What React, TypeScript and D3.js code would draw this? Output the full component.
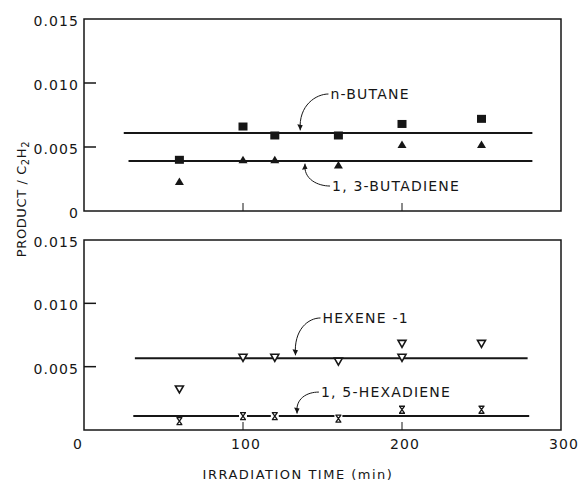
import React from "react";
import * as d3 from "d3";

// Irradiation times (min) and measured product / C2H2 ratios
const times = [60, 100, 120, 160, 200, 250];
const butane = [0.004, 0.0066, 0.0059, 0.0059, 0.0068, 0.0072];
const butadiene = [0.0023, 0.004, 0.004, 0.0036, 0.0052, 0.0052];
const hexeneTimes = [60, 100, 120, 160, 200, 200, 250];
const hexene = [0.0032, 0.0057, 0.0057, 0.0054, 0.0068, 0.0057, 0.0068];
const hexadiene = [0.0007, 0.0011, 0.0011, 0.0009, 0.0016, 0.0016];

// Mean-level lines: [value, start time, end time]
const butaneFit = [0.0061, 25, 282];
const butadieneFit = [0.0039, 28, 282];
const hexeneFit = [0.00567, 32, 279];
const hexadieneFit = [0.0011, 31, 280];

const yTicks = [0, 0.005, 0.01, 0.015];
const yTickLabels = ["0", "0.005", "0.010", "0.015"];
const xTicks = [0, 100, 200, 300];
const xTickLabels = ["0", "100", "200", "300"];

const INK = "#161616";
const FONT = "'DejaVu Sans', 'Liberation Sans', sans-serif";

const x = d3.scaleLinear().domain([0, 300]).range([84, 561]);
const yTop = d3.scaleLinear().domain([0, 0.015]).range([211, 19]);
const yBot = d3.scaleLinear().domain([0, 0.015]).range([430, 240]);

type Scale = d3.ScaleLinear<number, number>;

function Frame({ y, showZero }: { y: Scale; showZero: boolean }) {
  const [y0, y1] = y.range();
  return (
    <g>
      <rect x={x(0)} y={y1} width={x(300) - x(0)} height={y0 - y1} fill="none" stroke={INK} strokeWidth={1.5} />
      {yTicks.slice(1).map((t, i) => (
        <g key={t}>
          {t < 0.015 && <line x1={x(0)} x2={x(0) + 12} y1={y(t)} y2={y(t)} stroke={INK} strokeWidth={1.5} />}
          <text x={x(0) - 5} y={y(t) + 2} textAnchor="end" dominantBaseline="central" fontSize={14} letterSpacing={1.1} fill={INK} fontFamily={FONT}>
            {yTickLabels[i + 1]}
          </text>
        </g>
      ))}
      {showZero && (
        <text x={x(0) - 6} y={y(0) + 2} textAnchor="end" dominantBaseline="central" fontSize={14} fill={INK} fontFamily={FONT}>
          {yTickLabels[0]}
        </text>
      )}
      {[100, 200].map((t) => (
        <line key={t} x1={x(t)} x2={x(t)} y1={y0} y2={y0 - 8} stroke={INK} strokeWidth={1} />
      ))}
    </g>
  );
}

function FitLine({ fit, y }: { fit: number[]; y: Scale }) {
  return <line x1={x(fit[1])} x2={x(fit[2])} y1={y(fit[0])} y2={y(fit[0])} stroke={INK} strokeWidth={2} />;
}

function Leader({ y, tx, ty, ax, ay, label }: { y: Scale; tx: number; ty: number; ax: number; ay: number; label: string }) {
  const sx = x(tx) - 2;
  const sy = y(ty) - 5;
  const ex = x(ax);
  const ey = y(ay);
  const down = ey > sy;
  const path = d3.path();
  path.moveTo(sx, sy);
  path.bezierCurveTo(sx - 12, sy, ex - 2, sy + (ey - sy) * 0.3, ex, ey);
  const dir = down ? 1 : -1;
  const head = `M${ex},${ey} L${ex - 3},${ey - 6 * dir} L${ex + 2.5},${ey - 5 * dir} Z`;
  return (
    <g>
      <path d={path.toString()} fill="none" stroke={INK} strokeWidth={1} />
      <path d={head} fill={INK} />
      <text x={x(tx)} y={y(ty)} fontSize={14} letterSpacing={1.2} fill={INK} fontFamily={FONT}>
        {label}
      </text>
    </g>
  );
}

export default function App() {
  const sq = 9;
  return (
    <div style={{ position: "absolute", left: 0, top: 0 }}>
      <svg width={579} height={482} style={{ display: "block", background: "#fff" }}>
        {/* upper panel: C4 products */}
        <Frame y={yTop} showZero={true} />
        <FitLine fit={butaneFit} y={yTop} />
        <FitLine fit={butadieneFit} y={yTop} />
        {times.map((t, i) => (
          <rect key={"b" + i} x={x(t) - sq / 2} y={yTop(butane[i]) - 4} width={sq} height={8} fill={INK} />
        ))}
        {times.map((t, i) => {
          const cx = x(t);
          const cy = yTop(butadiene[i]);
          return <path key={"d" + i} d={`M${cx - 4.5},${cy + 3.5} L${cx + 4.5},${cy + 3.5} L${cx},${cy - 4} Z`} fill={INK} />;
        })}
        <Leader y={yTop} tx={155} ty={0.00875} ax={136} ay={0.0063} label="n-BUTANE" />
        <Leader y={yTop} tx={156} ty={0.00156} ax={139} ay={0.0037} label="1, 3-BUTADIENE" />

        {/* lower panel: C6 products */}
        <Frame y={yBot} showZero={false} />
        <FitLine fit={hexeneFit} y={yBot} />
        <FitLine fit={hexadieneFit} y={yBot} />
        {hexeneTimes.map((t, i) => {
          const cx = x(t);
          const cy = yBot(hexene[i]);
          return (
            <path key={"h" + i} d={`M${cx - 4},${cy - 3.5} L${cx + 4},${cy - 3.5} L${cx},${cy + 3.5} Z`} fill="#fff" stroke={INK} strokeWidth={1.6} />
          );
        })}
        {times.map((t, i) => {
          const cx = x(t);
          const cy = yBot(hexadiene[i]);
          return (
            <g key={"x" + i}>
              <rect x={cx - 4} y={cy - 4} width={8} height={8} fill="#fff" />
              <path
                d={`M${cx - 3},${cy - 3.5} L${cx + 3},${cy - 3.5} M${cx - 3},${cy + 3.5} L${cx + 3},${cy + 3.5} M${cx - 2.5},${cy - 3.5} L${cx + 2.5},${cy + 3.5} M${cx + 2.5},${cy - 3.5} L${cx - 2.5},${cy + 3.5}`}
                stroke={INK}
                strokeWidth={1.3}
                fill="none"
              />
            </g>
          );
        })}
        <Leader y={yBot} tx={150} ty={0.00845} ax={133} ay={0.0059} label="HEXENE -1" />
        <Leader y={yBot} tx={149} ty={0.0026} ax={134} ay={0.0013} label="1, 5-HEXADIENE" />

        {/* shared x axis labels */}
        {xTicks.map((t, i) => (
          <text key={t} x={t === 0 ? x(t) - 6 : x(t) + 3} y={444} textAnchor="middle" dominantBaseline="central" fontSize={14} letterSpacing={1.1} fill={INK} fontFamily={FONT}>
            {xTickLabels[i]}
          </text>
        ))}
        <text x={298} y={479} textAnchor="middle" fontSize={13} letterSpacing={1.5} fill={INK} fontFamily={FONT}>
          IRRADIATION TIME (min)
        </text>
        <text transform="translate(26,199) rotate(-90)" textAnchor="middle" fontSize={13} letterSpacing={0.6} fill={INK} fontFamily={FONT}>
          PRODUCT / C
          <tspan fontSize={10} dy={3}>2</tspan>
          <tspan dy={-3}>H</tspan>
          <tspan fontSize={10} dy={3}>2</tspan>
        </text>
      </svg>
    </div>
  );
}
